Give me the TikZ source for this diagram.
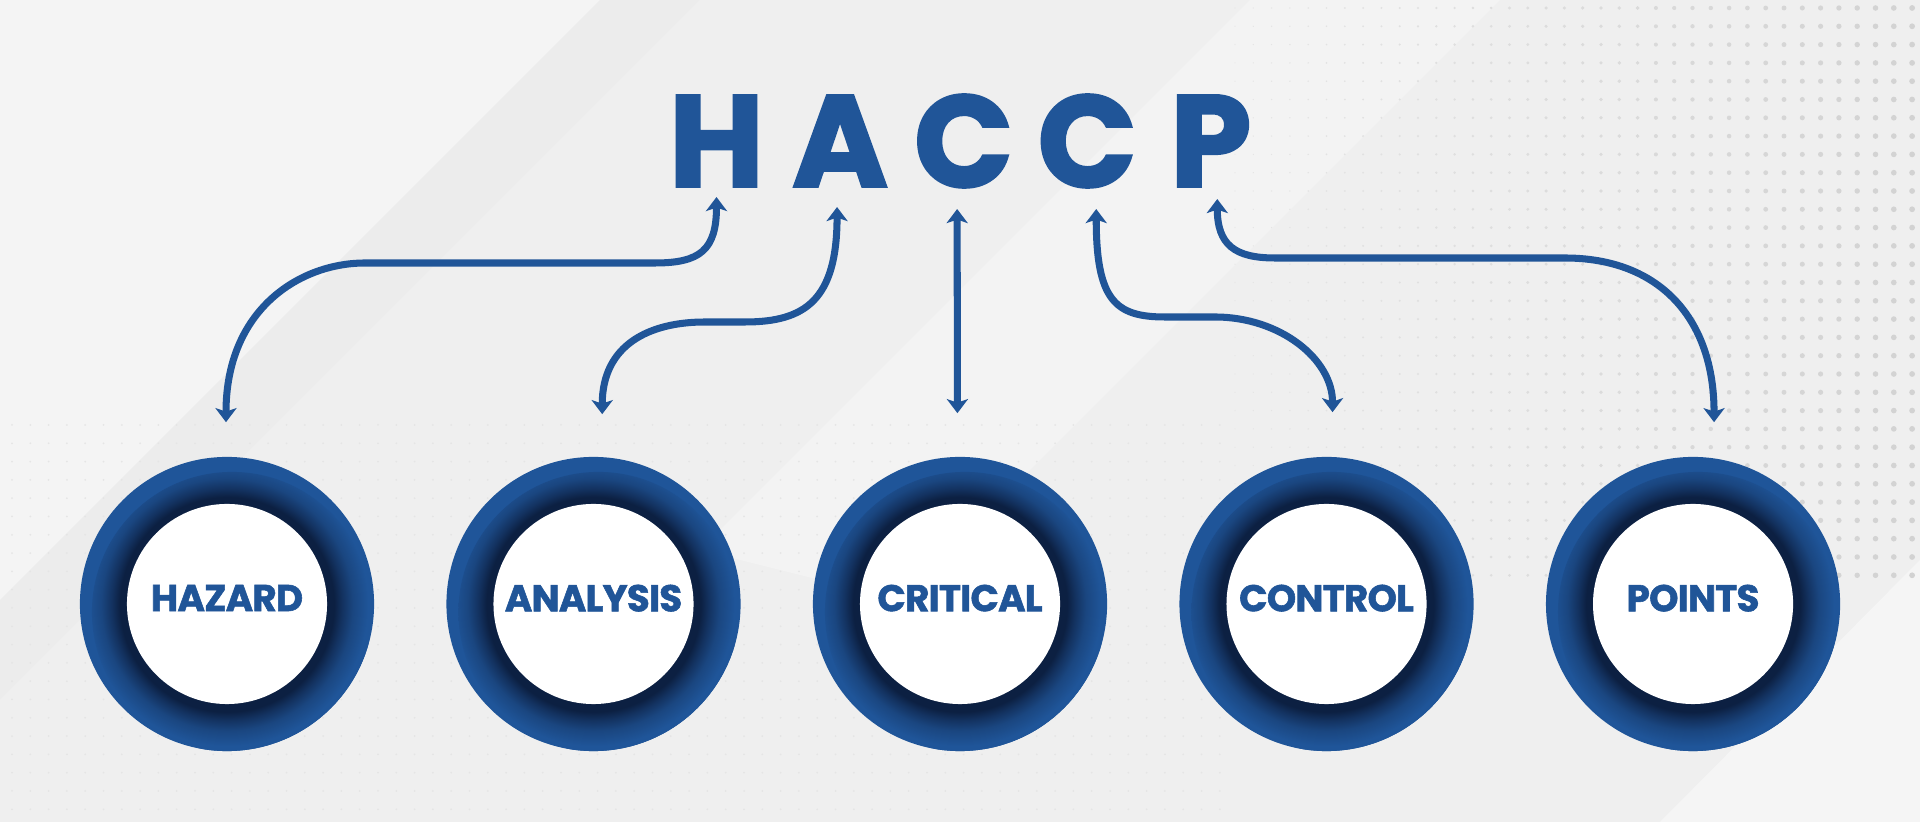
\documentclass[tikz,border=0pt]{standalone}
\usepackage{fontspec}
\setmainfont{Poppins}[BoldFont={Poppins Bold}, BoldFeatures={FakeBold=2}]
\newfontfamily\labelfont{Poppins Bold}[FakeBold=1.5, LetterSpace=-2]
\usetikzlibrary{arrows.meta,positioning}

\definecolor{haccpblue}{RGB}{32,85,152}
\definecolor{ringblue}{RGB}{31,85,153}
\definecolor{ringsoft}{RGB}{26,70,128}
\definecolor{ringmid}{RGB}{19,50,96}
\definecolor{ringdark}{RGB}{12,32,66}
\definecolor{paper}{RGB}{239,239,239}
\definecolor{dotgray}{RGB}{210,210,210}

\pgfdeclareradialshading{ringshade}{\pgfpointorigin}{color(0bp)=(ringdark); color(18.2bp)=(ringdark); color(19.6bp)=(ringmid); color(21.4bp)=(ringsoft); color(24bp)=(ringblue); color(50bp)=(ringblue)}

\begin{document}
\begin{tikzpicture}[x=0.01cm, y=-0.01cm, node distance=3.663cm,
    letter/.style={text=haccpblue, font=\fontsize{37}{40}\selectfont\bfseries, inner sep=0pt},
    ring/.style={circle, fill=ringblue, minimum size=2.94cm, inner sep=0pt, text=haccpblue,
        font=\labelfont\fontsize{10.6}{12}\selectfont, text depth=1.2mm,
        path picture={
            \shade[shading=ringshade] ([shift={(0.05cm,-0.08cm)}]path picture bounding box.center) circle[radius=1.4cm];
            \fill[white] (path picture bounding box.center) circle[radius=1cm];
        }},
    link/.style={draw=haccpblue, line width=2pt,
        {Stealth[length=4pt,width=6pt,inset=1pt]}-{Stealth[length=4pt,width=6pt,inset=1pt]}}]

    % Background
    \useasboundingbox (0,0) rectangle (1920,822);
    \fill[paper] (0,0) rectangle (1920,822);
    \fill[white, opacity=.35] (0,0) -- (600,0) -- (0,600) -- cycle;
    \fill[black, opacity=.012] (600,0) -- (700,0) -- (0,700) -- (0,600) -- cycle;
    \fill[white, opacity=.25] (1250,0) -- (1500,0) -- (900,600) -- (700,550) -- cycle;
    \fill[white, opacity=.4] (1920,560) -- (1920,822) -- (1660,822) -- cycle;
    \foreach \i in {0,...,37}
        \foreach \j in {0,...,31} {
            \pgfmathsetmacro\r{0.6+2.3*\i/37}
            \pgfmathtruncatemacro\p{35+65*\i/37}
            \fill[dotgray!\p!paper] (1235+18.3*\i,8+18.3*\j) circle[radius=\r];
        }
    \foreach \i in {0,...,66}
        \foreach \j in {0,...,21}
            \fill[dotgray!35!paper] (12+18.3*\i,425+18.3*\j) circle[radius=1];

    % Nodes
    \node (h) [letter] at (716.5,141) {H};
    \node (a) [letter, right of=h, node distance=1.235cm] {A};
    \node (c1) [letter, right of=a, node distance=1.235cm] {C};
    \node (c2) [letter, right of=c1, node distance=1.235cm] {C};
    \node (p) [letter, right of=c2, node distance=1.235cm] {P};

    \node (hazard) [ring] at (227,604) {HAZARD};
    \node (analysis) [ring, right of=hazard] {ANALYSIS};
    \node (critical) [ring, right of=analysis] {CRITICAL};
    \node (control) [ring, right of=critical] {CONTROL};
    \node (points) [ring, right of=control] {POINTS};

    % Edges
    \draw[link] ([yshift=-5.6mm]h.center) .. controls +(0,53) and (700,263) .. (655,263)
        -- (365,263) .. controls (300,263) and +(0,-113) .. ([xshift=-0.1mm,yshift=3.4mm]hazard.north);
    \draw[link] ([xshift=-0.3mm,yshift=-6.6mm]a.center) .. controls +(0,93) and (805,322) .. (745,322)
        -- (705,322) .. controls (650,322) and +(0,-70) .. ([xshift=0.87mm,yshift=4.2mm]analysis.north);
    \draw[link] ([xshift=-0.65mm,yshift=-6.8mm]c1.center) -- ([xshift=-0.26mm,yshift=4.3mm]critical.north);
    \draw[link] ([xshift=0.9mm,yshift=-6.8mm]c2.center) .. controls +(0,91) and (1115,317) .. (1165,317)
        -- (1215,317) .. controls (1280,317) and +(0,-53) .. ([xshift=0.6mm,yshift=4.4mm]control.north);
    \draw[link] ([xshift=0.65mm,yshift=-5.8mm]p.center) .. controls +(0,46) and (1235,258) .. (1275,258)
        -- (1565,258) .. controls (1660,258) and +(0,-103) .. ([xshift=2.1mm,yshift=3.4mm]points.north);
\end{tikzpicture}
\end{document}
